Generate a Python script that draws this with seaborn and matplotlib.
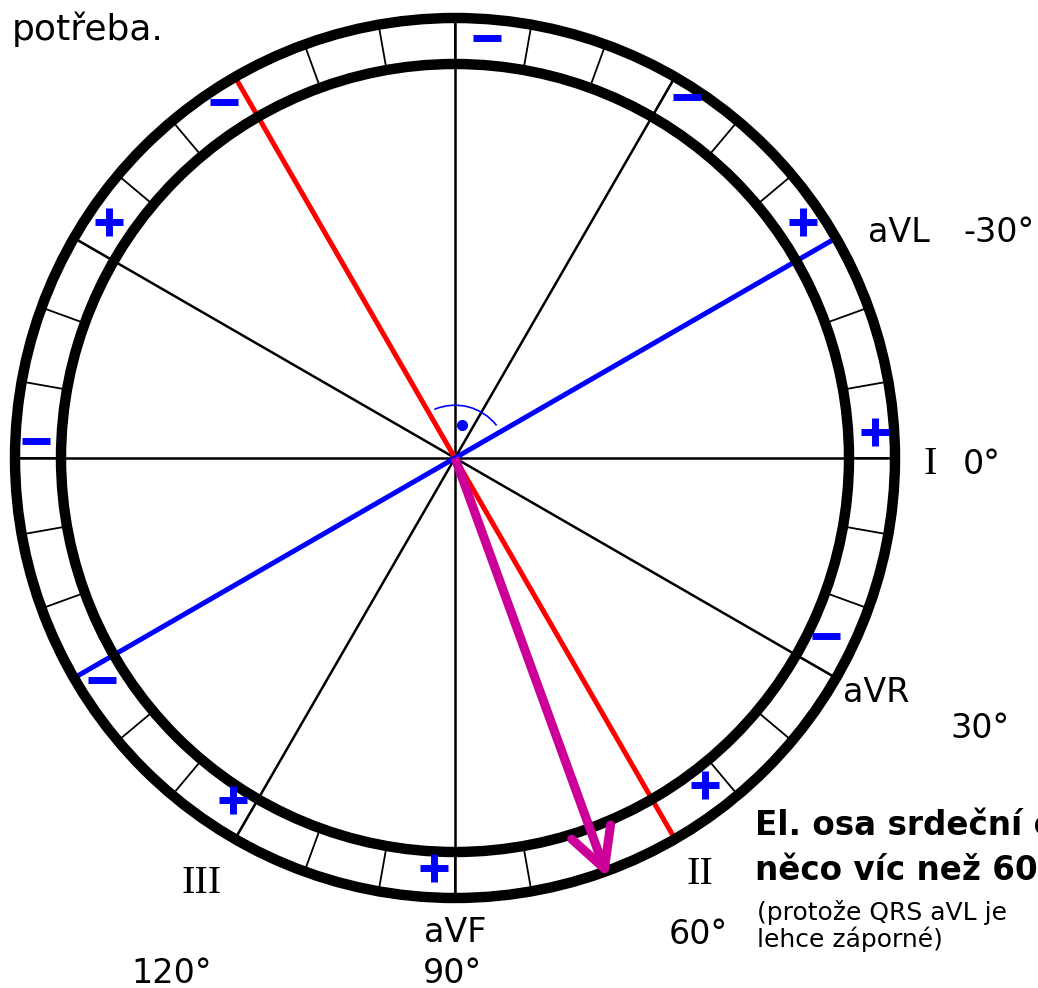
import numpy as np
import pandas as pd
import matplotlib
matplotlib.use("Agg")
import matplotlib.pyplot as plt
from matplotlib.patches import Circle, Arc
import seaborn as sns

# hexaxial leads (ECG convention: degrees, positive = clockwise / downward)
lead_names = ["I", "aVR", "II", "aVF", "III", "aVL"]
lead_angles = [0, 30, 60, 90, 120, -30]
lead_colors = ["black", "black", "red", "black", "black", "blue"]

# polarity signs in the ring
sign_symbols = ["−", "−", "−", "+", "+", "−", "+", "−", "−", "+", "+", "+"]
sign_angles = [-85.6, -123, -57.3, -145.7, -34.1, -177.7, -3.5, 25.6, 147.8, 52.6, 123, 92.9]
sign_radius = [0.957, 0.964, 0.975, 0.952, 0.955, 0.952, 0.957, 0.934, 0.948, 0.936, 0.927, 0.932]

# electrical axis of the heart
heart_axis = 70

sns.set_theme(style="white")
plt.rcParams["font.family"] = ["DejaVu Sans"]

CX, CY, RPX = 455, 458, 440
W, H = 1038, 988


def P(x, y):
    return (x - CX) / RPX, (CY - y) / RPX


def polar(ang, r):
    a = np.deg2rad(-ang)
    return r * np.cos(a), r * np.sin(a)


fig = plt.figure(figsize=(W / 100, H / 100), dpi=100)
ax = fig.add_axes([0, 0, 1, 1])
ax.set_xlim(P(0, 0)[0], P(W, 0)[0])
ax.set_ylim(P(0, H)[1], P(0, 0)[1])
ax.axis("off")

r_in = 394 / RPX

# ring ticks every 10 deg
for a in range(0, 360, 10):
    x0, y0 = polar(a, r_in)
    x1, y1 = polar(a, 1.0)
    ax.plot([x0, x1], [y0, y1], color="black", lw=1.3, zorder=1)

# lead lines
leads = pd.DataFrame({"lead": lead_names, "angle": lead_angles, "color": lead_colors})
for _, row in leads.iterrows():
    xa, ya = polar(row["angle"], 1.0)
    xb, yb = polar(row["angle"] + 180, 1.0)
    lw = 1.8 if row["color"] == "black" else 3.6
    z = 2 if row["color"] == "black" else 3
    sns.lineplot(x=[xb, xa], y=[yb, ya], color=row["color"], lw=lw, sort=False,
                 ax=ax, zorder=z, estimator=None)

# circles
for r in [1.0, r_in]:
    ax.add_patch(Circle((0, 0), r, fill=False, lw=7.5, color="black", zorder=4))

# right-angle mark between II and aVL
ax.add_patch(Arc((0, 0), 0.24, 0.24, theta1=38, theta2=113, color="blue", lw=1.2, zorder=5))
ax.plot([0.016], [0.075], "o", color="blue", ms=7, zorder=5)

# polarity signs
signs = pd.DataFrame({"sym": sign_symbols, "ang": sign_angles, "r": sign_radius})
for _, row in signs.iterrows():
    sx, sy = polar(row["ang"], row["r"])
    mk = "+" if row["sym"] == "+" else "_"
    ax.plot([sx], [sy], marker=mk, color="blue", ms=20, mew=5, zorder=6)

# electrical axis arrow
tip = np.array(polar(heart_axis, 0.993))
ax.plot([0, tip[0]], [0, tip[1]], color="#cc0099", lw=6.5, solid_capstyle="butt", zorder=7)
for d in [-28, 28]:
    wx, wy = polar(heart_axis + 180 + d, 0.1)
    ax.plot([tip[0], tip[0] + wx], [tip[1], tip[1] + wy], color="#cc0099", lw=6.5,
            solid_capstyle="round", zorder=7)

# labels
def label(x, y, s, size=24, family=None, weight="normal", ha="left"):
    kw = {}
    if family:
        kw["family"] = family
    ax.text(*P(x, y), s, fontsize=size, ha=ha, va="baseline", weight=weight,
            color="black", zorder=8, **kw)


label(12, 40, "potřeba.", size=26)
label(868, 242, "aVL")
label(963, 242, "-30°")
label(930, 474, "I", size=29, family="Liberation Serif", ha="center")
label(963, 474, "0°")
label(843, 702, "aVR")
label(950, 738, "30°")
label(700, 884, "II", size=29, family="Liberation Serif", ha="center")
label(698, 944, "60°", ha="center")
label(455, 942, "aVF", ha="center")
label(452, 983, "90°", ha="center")
label(202, 893, "III", size=29, family="Liberation Serif", ha="center")
label(172, 983, "120°", ha="center")
label(755, 835, "El. osa srdeční o", size=23.5, weight="bold")
label(755, 880, "něco víc než 60°", size=23.5, weight="bold")
label(757, 920, "(protože QRS aVL je", size=18)
label(757, 947, "lehce záporné)", size=18)

plt.savefig("out.png", dpi=100)
